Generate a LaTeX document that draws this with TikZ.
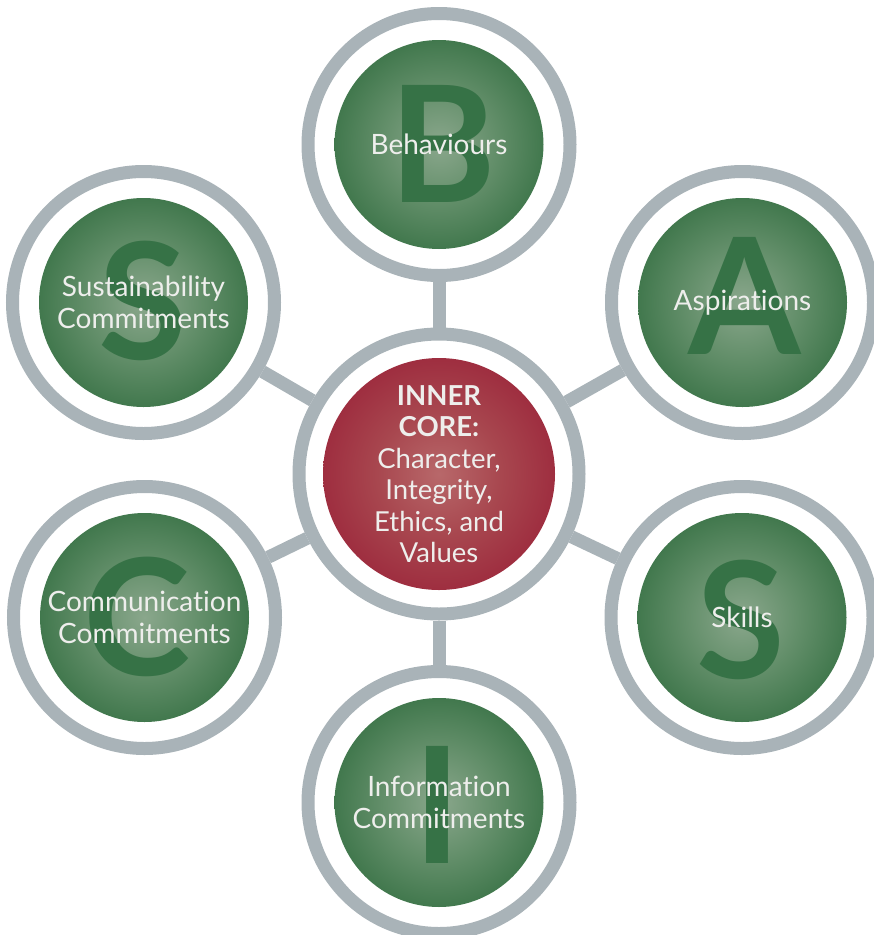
\documentclass[tikz,border=0pt]{standalone}
\usepackage{fontspec}
\setmainfont{Lato}[Ligatures={NoCommon,NoContextual}]
\usepackage{tikz}
\usetikzlibrary{backgrounds}

\definecolor{ringgrey}{HTML}{A9B3B8}
\definecolor{leafdark}{HTML}{3A7347}
\definecolor{leaflight}{HTML}{8AA78C}
\definecolor{leafmid}{HTML}{628E69}
\definecolor{letterdark}{HTML}{367246}
\definecolor{coredark}{HTML}{9C283C}
\definecolor{corelight}{HTML}{B8686A}
\definecolor{coremid}{HTML}{A8474F}
\definecolor{labelwhite}{HTML}{EEEEEC}

\pgfdeclareradialshading{leafshade}{\pgfpoint{0bp}{0bp}}{color(0bp)=(leaflight); color(11bp)=(leafmid); color(22bp)=(leafdark); color(50bp)=(leafdark)}
\pgfdeclareradialshading{coreshade}{\pgfpoint{0bp}{0bp}}{color(0bp)=(corelight); color(11bp)=(coremid); color(23bp)=(coredark); color(50bp)=(coredark)}

\begin{document}
\begin{tikzpicture}[x=1pt, y=-1pt,
    every node/.style={align=center, inner sep=0pt},
    ring/.style={circle, draw=ringgrey, line width=13pt, fill=white, minimum size=262pt},
    leaf/.style={ring, path picture={\shade[shading=leafshade] (path picture bounding box.center) circle (104.5pt);}},
    core/.style={ring, minimum size=280pt, path picture={\shade[shading=coreshade] (path picture bounding box.center) circle (116pt);}},
    letter/.style={text=letterdark, font=\fontsize{162}{162}\selectfont\bfseries},
    caption/.style={text=labelwhite, font=\fontsize{28}{32}\selectfont},
    corecaption/.style={text=labelwhite, font=\fontsize{27.5}{31.5}\selectfont},
    link/.style={draw=ringgrey, line width=13pt}]
  \useasboundingbox (0,0) rectangle (874,935);

  % rings
  \node[core] (inner) at (439,474) {};
  \node[leaf] (beh) at (439,144.5) {};
  \node[leaf] (asp) at (742.5,302.5) {};
  \node[leaf] (skl) at (742,617.5) {};
  \node[leaf] (inf) at (439,802.5) {};
  \node[leaf] (com) at (144.5,617.5) {};
  \node[leaf] (sus) at (143.5,302.5) {};

  \begin{scope}[on background layer]
    \draw[link] (inner) -- (beh);
    \draw[link] (inner) -- (asp);
    \draw[link] (inner) -- (skl);
    \draw[link] (inner) -- (inf);
    \draw[link] (inner) -- (com);
    \draw[link] (inner) -- (sus);
  \end{scope}

  % big letters
  \node[letter] (beh-l) at (443,144) {B};
  \node[letter] (asp-l) at (745,296) {A};
  \node[letter] (skl-l) at (741,620) {S};
  \node[letter] (inf-l) at (438,805) {I};
  \node[letter] (com-l) at (137,617) {C};
  \node[letter] (sus-l) at (143,301) {S};

  % labels
  \node[caption] (beh-t) at (beh) {Behaviours};
  \node[caption] (asp-t) at (asp) {Aspirations};
  \node[caption] (skl-t) at (skl) {Skills};
  \node[caption] (inf-t) at (inf) {Information\\Commitments};
  \node[caption] (com-t) at (com) {Communication\\Commitments};
  \node[caption] (sus-t) at (sus) {Sustainability\\Commitments};
  \node[corecaption] (inner-t) at (inner) {\textbf{INNER}\\\textbf{CORE:}\\Character,\\Integrity,\\Ethics, and\\Values};
\end{tikzpicture}
\end{document}
